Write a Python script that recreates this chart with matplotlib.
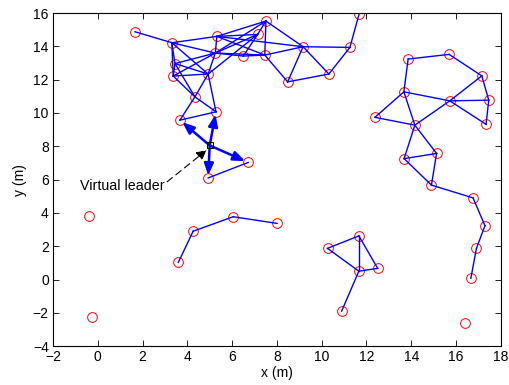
import matplotlib
matplotlib.use("Agg")
import matplotlib.pyplot as plt

plt.rcParams['font.family'] = ['Liberation Sans', 'DejaVu Sans']

# Agent positions (m)
node_x = [1.66, 3.31, 5.32, 7.51, 7.14, 6.50, 7.46, 5.25, 3.45, 3.37,
          4.93, 4.34, 5.28, 3.67, 6.72, 4.93,
          9.17, 8.48, 10.32, 11.26, 11.67,
          13.86, 15.69, 17.15, 17.46, 17.34, 15.72, 13.67, 12.38, 14.16,
          13.68, 15.13, 14.90, 16.76, 17.29, 16.91, 16.66, 16.39,
          10.26, 11.66, 11.66, 12.50, 10.89,
          -0.38, -0.26, 3.60, 4.26, 6.05, 8.01]
node_y = [14.88, 14.22, 14.60, 15.52, 14.72, 13.42, 13.48, 13.60, 12.97, 12.22,
          12.34, 10.97, 10.07, 9.57, 7.03, 6.10,
          13.98, 11.87, 12.34, 13.94, 15.94,
          13.24, 13.52, 12.23, 10.77, 9.32, 10.73, 11.27, 9.74, 9.27,
          7.26, 7.57, 5.67, 4.90, 3.23, 1.87, 0.07, -2.64,
          1.87, 2.62, 0.50, 0.67, -1.90,
          3.83, -2.28, 1.03, 2.90, 3.77, 3.37]

# Communication links (1-based agent indices)
edges = [(1, 2), (2, 3), (2, 8), (2, 9), (2, 10), (2, 11),
         (3, 4), (3, 5), (3, 7), (3, 8), (3, 17), (4, 5), (4, 7), (4, 17), (4, 8),
         (5, 6), (5, 8), (5, 11), (6, 8), (6, 7), (8, 7), (7, 17), (7, 18),
         (8, 9), (8, 10), (8, 11), (9, 10), (9, 11), (10, 11), (9, 12), (10, 12),
         (11, 12), (11, 13), (12, 14), (12, 13), (13, 14), (15, 16),
         (17, 18), (17, 19), (17, 20), (18, 19), (19, 20), (20, 21),
         (22, 23), (23, 24), (24, 25), (25, 26), (22, 28), (28, 27), (28, 29),
         (28, 30), (29, 30), (27, 24), (27, 25), (27, 26), (27, 30),
         (30, 31), (30, 32), (31, 32), (31, 33), (32, 33), (33, 34), (34, 35),
         (35, 36), (36, 37),
         (39, 40), (39, 41), (40, 41), (40, 42), (41, 42), (41, 43),
         (46, 47), (47, 48), (48, 49)]

# Virtual leader and the agents it informs
leader = (5.0, 8.05)
informed = [14, 13, 15, 16]

x_ticks = [-2, 0, 2, 4, 6, 8, 10, 12, 14, 16, 18]
y_ticks = [-4, -2, 0, 2, 4, 6, 8, 10, 12, 14, 16]

fig = plt.figure(figsize=(5.09, 3.85), dpi=100)
ax = fig.add_axes([0.104, 0.101, 0.880, 0.865])

ax.plot(node_x, node_y, 'o', ms=7.0, mfc='none', mec='red', mew=0.7, zorder=2)

for i, j in edges:
    ax.plot([node_x[i - 1], node_x[j - 1]], [node_y[i - 1], node_y[j - 1]],
            '-', color='blue', lw=1.0, zorder=3)

for k in informed:
    tx, ty = node_x[k - 1], node_y[k - 1]
    ex = leader[0] + 0.92 * (tx - leader[0])
    ey = leader[1] + 0.92 * (ty - leader[1])
    ax.annotate('', xy=(ex, ey), xytext=leader,
                arrowprops=dict(arrowstyle='-|>,head_length=0.5,head_width=0.2',
                                color='blue', lw=1.8,
                                mutation_scale=14, shrinkA=0, shrinkB=0),
                zorder=4)

ax.plot([leader[0]], [leader[1]], 's', ms=4, mfc='none', mec='black', mew=0.7, zorder=5)

ax.annotate('', xy=(4.86, 7.77), xytext=(3.1, 5.87),
            arrowprops=dict(arrowstyle='-|>', color='black', lw=0.8,
                            linestyle=(0, (6, 4)), mutation_scale=15,
                            shrinkA=0, shrinkB=0), zorder=5)
ax.text(-0.8, 5.6, 'Virtual leader', fontsize=10.3, ha='left', va='center')

ax.set_xlim(-2, 18)
ax.set_ylim(-4, 16)
ax.set_xticks(x_ticks)
ax.set_yticks(y_ticks)
ax.tick_params(direction='in', top=True, right=True, length=4, width=0.6,
               labelsize=10, pad=3)
for s in ax.spines.values():
    s.set_linewidth(0.8)
ax.set_xlabel('x (m)', fontsize=10, labelpad=1)
ax.set_ylabel('y (m)', fontsize=10, labelpad=4)

fig.savefig('out.png', dpi=100)
